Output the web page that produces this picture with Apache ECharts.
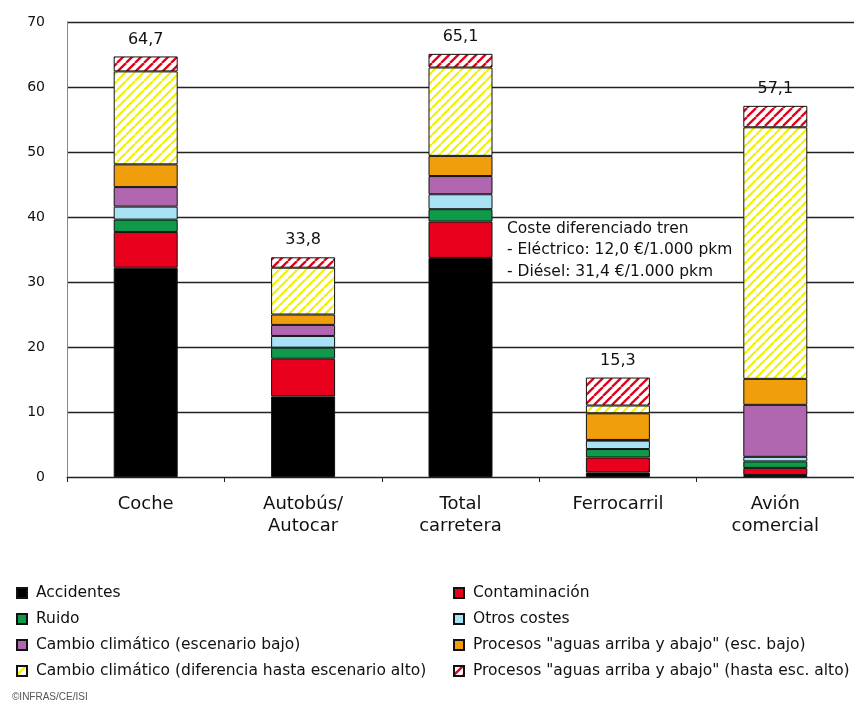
<!DOCTYPE html>
<html>
<head>
<meta charset="utf-8">
<script src="https://cdn.jsdelivr.net/npm/echarts@6/dist/echarts.min.js"></script>
<style>
  html, body { margin: 0; padding: 0; background: #fff; }
  #chart { width: 854px; height: 704px; }
</style>
</head>
<body>
<div id="chart"></div>
<script>
const categories = ['Coche', 'Autobús/\nAutocar', 'Total\ncarretera', 'Ferrocarril', 'Avión\ncomercial']
const accidentes = [32.2, 12.4, 33.7, 0.7, 0.3]
const contaminacion = [5.5, 5.8, 5.6, 2.3, 1.1]
const ruido = [1.9, 1.7, 1.9, 1.3, 1.0]
const otros = [2.0, 1.8, 2.3, 1.3, 0.7]
const climaBajo = [3.0, 1.7, 2.8, 0.1, 8.0]
const procesosBajo = [3.5, 1.6, 3.1, 4.1, 4.0]
const climaAlto = [14.3, 7.2, 13.6, 1.2, 38.7]
const procesosAlto = [2.3, 1.6, 2.1, 4.3, 3.3]
const totals = [64.7, 33.8, 65.1, 15.3, 57.1]
const yTicks = [0, 10, 20, 30, 40, 50, 60, 70]

const textFont = '"DejaVu Sans", sans-serif'

// diagonal stripes tile
const stripes = (fg, bg, lw) => {
  const s = 9
  const c = document.createElement('canvas')
  c.width = s
  c.height = s
  const ctx = c.getContext('2d')
  ctx.fillStyle = bg
  ctx.fillRect(0, 0, s, s)
  ctx.strokeStyle = fg
  ctx.lineWidth = lw
  for (const k of [-s, 0, s]) {
    ctx.beginPath()
    ctx.moveTo(k, s)
    ctx.lineTo(k + s, 0)
    ctx.stroke()
  }
  return { image: c, repeat: 'repeat' }
}

const names = [
  'Accidentes',
  'Contaminación',
  'Ruido',
  'Otros costes',
  'Cambio climático (escenario bajo)',
  'Procesos "aguas arriba y abajo" (esc. bajo)',
  'Cambio climático (diferencia hasta escenario alto)',
  'Procesos "aguas arriba y abajo" (hasta esc. alto)'
]
const values = [accidentes, contaminacion, ruido, otros, climaBajo, procesosBajo, climaAlto, procesosAlto]
const fills = [
  '#000000',
  '#e8001c',
  '#0f9a4a',
  '#a8e2f4',
  '#b067b0',
  '#f09e0c',
  stripes('#f2f200', '#ffffff', 2.2),
  stripes('#e2001a', '#ffffff', 2.3)
]

const series = names.map((name, i) => ({
  name,
  type: 'bar',
  stack: 'total',
  barWidth: 64,
  itemStyle: { color: fills[i], borderColor: '#111', borderWidth: 1 },
  label: i === names.length - 1 ? {
    show: true,
    position: 'top',
    distance: 9,
    fontFamily: textFont,
    fontSize: 16,
    color: '#111',
    formatter: p => totals[p.dataIndex].toFixed(1).replace('.', ',')
  } : { show: false },
  data: values[i]
}))

const legendBase = {
  orient: 'vertical',
  icon: 'rect',
  itemWidth: 10,
  itemHeight: 10,
  itemGap: 8,
  textStyle: { fontFamily: textFont, fontSize: 15.5, lineHeight: 18, color: '#111', padding: [0, 0, 0, 4] }
}

const chart = echarts.init(document.getElementById('chart'))
chart.setOption({
  animation: false,
  grid: { left: 67, right: 0, top: 22, bottom: 227 },
  xAxis: {
    type: 'category',
    data: categories,
    axisLine: { lineStyle: { color: '#222', width: 1.2 } },
    axisTick: { show: true, length: 5, lineStyle: { color: '#222' } },
    axisLabel: {
      margin: 16,
      fontFamily: textFont,
      fontSize: 18,
      lineHeight: 22,
      color: '#111'
    }
  },
  yAxis: {
    type: 'value',
    min: yTicks[0],
    max: yTicks[yTicks.length - 1],
    interval: 10,
    axisLine: { show: true, lineStyle: { color: '#888', width: 1 } },
    axisTick: { show: false },
    axisLabel: {
      margin: 22,
      fontFamily: textFont,
      fontSize: 14,
      color: '#111'
    },
    splitLine: { lineStyle: { color: '#222', width: 1.3 } }
  },
  legend: [
    Object.assign({}, legendBase, {
      left: 11,
      top: 579,
      data: [names[0], names[2], names[4], names[6]]
    }),
    Object.assign({}, legendBase, {
      left: 448,
      top: 579,
      data: [names[1], names[3], names[5], names[7]]
    })
  ],
  graphic: [
    {
      type: 'text',
      left: 507,
      top: 218,
      style: {
        text: 'Coste diferenciado tren\n- Eléctrico: 12,0 €/1.000 pkm\n- Diésel: 31,4 €/1.000 pkm',
        font: '15.5px ' + textFont,
        lineHeight: 21.5,
        fill: '#111'
      }
    },
    {
      type: 'text',
      left: 12,
      top: 692,
      style: {
        text: '©INFRAS/CE/ISI',
        font: '10px "Liberation Sans", sans-serif',
        fill: '#555'
      }
    }
  ],
  series
})
</script>
</body>
</html>
